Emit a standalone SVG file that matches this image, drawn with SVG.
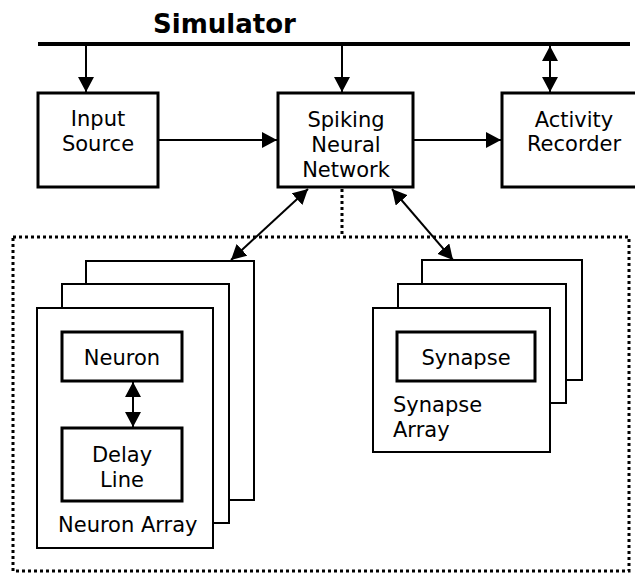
<svg xmlns="http://www.w3.org/2000/svg" width="635" height="573" viewBox="0 0 635 573">
  <defs>
    <marker id="head" markerUnits="userSpaceOnUse" markerWidth="16" markerHeight="17" refX="15" refY="8" orient="auto-start-reverse">
      <path d="M0,0 L15,8 L0,16 z" fill="#000"/>
    </marker>
    <style>
      text { font-family: "DejaVu Sans", Verdana, sans-serif; font-size: 21px; fill: #000; }
      .title { font-size: 26px; font-weight: bold; }
      .mid { text-anchor: middle; }
      .box { fill: #fff; stroke: #000; stroke-width: 3; }
      .sheet { fill: #fff; stroke: #000; stroke-width: 2; }
      .wire { fill: none; stroke: #000; stroke-width: 2; }
      .one { marker-end: url(#head); }
      .two { marker-start: url(#head); marker-end: url(#head); }
      .dots { fill: none; stroke: #000; stroke-width: 3; stroke-dasharray: 3 3; }
    </style>
  </defs>

  <rect width="635" height="573" fill="#fff"/>

  <!-- simulator bus -->
  <g id="simulator">
    <text class="title" x="153" y="33">Simulator</text>
    <line x1="38" y1="44" x2="630" y2="44" stroke="#000" stroke-width="4"/>
  </g>

  <!-- container for the network internals -->
  <g id="network-internals">
    <rect class="dots" x="13" y="237" width="616" height="334"/>
    <line class="dots" x1="342" y1="189" x2="342" y2="237"/>
  </g>

  <g id="input-source">
    <rect class="box" x="38" y="93" width="120" height="94"/>
    <text class="mid" x="98" y="126">Input</text>
    <text class="mid" x="98" y="151">Source</text>
  </g>

  <g id="spiking-neural-network">
    <rect class="box" x="278" y="93" width="135" height="94"/>
    <text class="mid" x="346" y="127">Spiking</text>
    <text class="mid" x="346" y="152">Neural</text>
    <text class="mid" x="346" y="177">Network</text>
  </g>

  <g id="activity-recorder">
    <rect class="box" x="502" y="93" width="146" height="94"/>
    <text class="mid" x="574" y="127">Activity</text>
    <text class="mid" x="574" y="151">Recorder</text>
  </g>

  <g id="neuron-array">
    <rect class="sheet" x="86" y="261" width="168" height="239"/>
    <rect class="sheet" x="62" y="284" width="167" height="239"/>
    <rect class="sheet" x="37" y="308" width="176" height="240"/>
    <text x="58" y="532">Neuron Array</text>
  </g>

  <g id="neuron">
    <rect class="box" x="62" y="332" width="120" height="49"/>
    <text class="mid" x="122" y="365">Neuron</text>
  </g>

  <g id="delay-line">
    <rect class="box" x="62" y="428" width="120" height="73"/>
    <text class="mid" x="122" y="462">Delay</text>
    <text class="mid" x="122" y="487">Line</text>
  </g>

  <g id="synapse-array">
    <rect class="sheet" x="422" y="260" width="160" height="120"/>
    <rect class="sheet" x="398" y="284" width="168" height="119"/>
    <rect class="sheet" x="373" y="308" width="177" height="144"/>
    <text x="393" y="412">Synapse</text>
    <text x="393" y="437">Array</text>
  </g>

  <g id="synapse">
    <rect class="box" x="397" y="332" width="138" height="49"/>
    <text class="mid" x="466" y="365">Synapse</text>
  </g>

  <!-- connectors -->
  <g id="connectors">
    <line class="wire one" x1="86" y1="46" x2="86" y2="92"/>
    <line class="wire one" x1="342" y1="46" x2="342" y2="92"/>
    <line class="wire two" x1="550" y1="46" x2="550" y2="92"/>
    <line class="wire one" x1="159" y1="140" x2="277" y2="140"/>
    <line class="wire one" x1="414" y1="140" x2="501" y2="140"/>
    <line class="wire two" x1="308" y1="189" x2="231" y2="260"/>
    <line class="wire two" x1="392" y1="189" x2="453" y2="260"/>
    <line class="wire two" x1="133" y1="382" x2="133" y2="427"/>
  </g>
</svg>
